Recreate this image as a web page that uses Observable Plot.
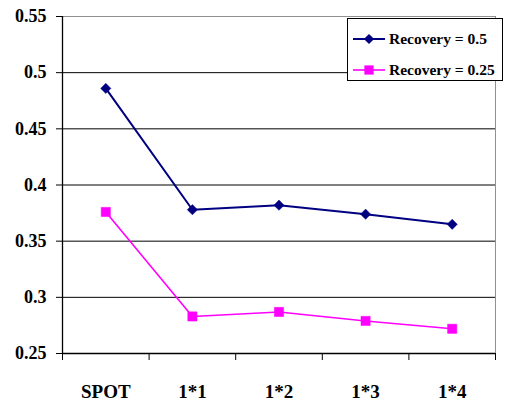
<!DOCTYPE html>
<html>
<head>
<meta charset="utf-8">
<script src="https://cdn.jsdelivr.net/npm/d3@7"></script>
<script src="https://cdn.jsdelivr.net/npm/@observablehq/plot@0.6"></script>
<style>
  html, body { margin: 0; padding: 0; background: #fff; }
  #chart { width: 508px; height: 404px; }
</style>
</head>
<body>
<div id="chart"></div>
<script>
const categories = ["SPOT", "1*1", "1*2", "1*3", "1*4"];
const seriesNames = ["Recovery = 0.5", "Recovery = 0.25"];
const recovery05 = [0.486, 0.378, 0.382, 0.374, 0.365];
const recovery025 = [0.376, 0.283, 0.287, 0.279, 0.272];
const yTicks = [0.25, 0.3, 0.35, 0.4, 0.45, 0.5, 0.55];
const colors = ["#000080", "#FF00FF"];

const data = [];
categories.forEach((c, i) => {
  data.push({cat: c, xi: i + 0.5, value: recovery05[i], series: seriesNames[0]});
  data.push({cat: c, xi: i + 0.5, value: recovery025[i], series: seriesNames[1]});
});
const s1 = data.filter(d => d.series === seriesNames[0]);
const s2 = data.filter(d => d.series === seriesNames[1]);

const font = "Liberation Serif";
const fmt = d => String(+d.toFixed(2));

const plot = Plot.plot({
  width: 508,
  height: 404,
  marginLeft: 62,
  marginRight: 13,
  marginTop: 16,
  marginBottom: 51,
  style: "font-family: 'Liberation Serif', serif; font-weight: bold; font-size: 18px; background: #fff; color: #000;",
  x: {type: "linear", domain: [0, categories.length]},
  y: {domain: [0.25, 0.55]},
  color: {domain: seriesNames, range: colors},
  marks: [
    Plot.gridY(yTicks.filter(t => t < 0.55 && t > 0.25), {stroke: "#000", strokeOpacity: 1, strokeWidth: 1}),
    Plot.ruleY([0.55], {stroke: "#909090", strokeWidth: 1}),
    Plot.ruleX([categories.length], {stroke: "#909090", strokeWidth: 1}),
    Plot.axisY({ticks: yTicks, tickFormat: fmt, tickSize: 6, tickPadding: 10, fontSize: 18, fontWeight: "bold", fontFamily: font, label: null, stroke: "#000"}),
    Plot.axisX({ticks: d3.range(0, categories.length + 1), tickFormat: () => "", tickSize: 7, label: null, stroke: "#000"}),
    Plot.axisX({ticks: d3.range(categories.length).map(i => i + 0.5), tickFormat: d => categories[Math.floor(d)], tickSize: 0, tickPadding: 31, fontSize: 19, fontWeight: "bold", fontFamily: font, label: null}),
    Plot.ruleX([0], {stroke: "#000", strokeWidth: 1.3}),
    Plot.ruleY([0.25], {stroke: "#000", strokeWidth: 1.3}),
    Plot.line(s1, {x: "xi", y: "value", stroke: colors[0], strokeWidth: 2}),
    Plot.line(s2, {x: "xi", y: "value", stroke: colors[1], strokeWidth: 1.6}),
    Plot.dot(s1, {x: "xi", y: "value", symbol: "diamond2", r: 4.6, fill: colors[0], stroke: colors[0], strokeWidth: 0.5}),
    Plot.dot(s2, {x: "xi", y: "value", symbol: "square", r: 5.2, fill: colors[1], stroke: colors[1], strokeWidth: 0.5})
  ]
});

document.getElementById("chart").appendChild(plot);

// Legend inside the plot area (top-right)
const svg = d3.select(plot);
const lg = svg.append("g").attr("transform", "translate(347,18)");
lg.append("rect").attr("x", 0.5).attr("y", 0.5).attr("width", 155).attr("height", 62)
  .attr("fill", "#fff").attr("stroke", "#000").attr("stroke-width", 1);
const symbols = [d3.symbolDiamond2, d3.symbolSquare];
const sizes = [Math.PI * 4.6 * 4.6, Math.PI * 5.2 * 5.2];
seriesNames.forEach((name, i) => {
  const cy = 21 + i * 31;
  lg.append("line").attr("x1", 6).attr("x2", 38).attr("y1", cy).attr("y2", cy)
    .attr("stroke", colors[i]).attr("stroke-width", i === 0 ? 2 : 1.6);
  lg.append("path").attr("transform", `translate(22,${cy})`)
    .attr("d", d3.symbol(symbols[i], sizes[i])()).attr("fill", colors[i]);
  lg.append("text").attr("x", 42).attr("y", cy).attr("dy", "0.35em")
    .attr("text-anchor", "start")
    .attr("font-family", font).attr("font-weight", "bold").attr("font-size", 15.5)
    .attr("fill", "#000").text(name);
});
</script>
</body>
</html>
